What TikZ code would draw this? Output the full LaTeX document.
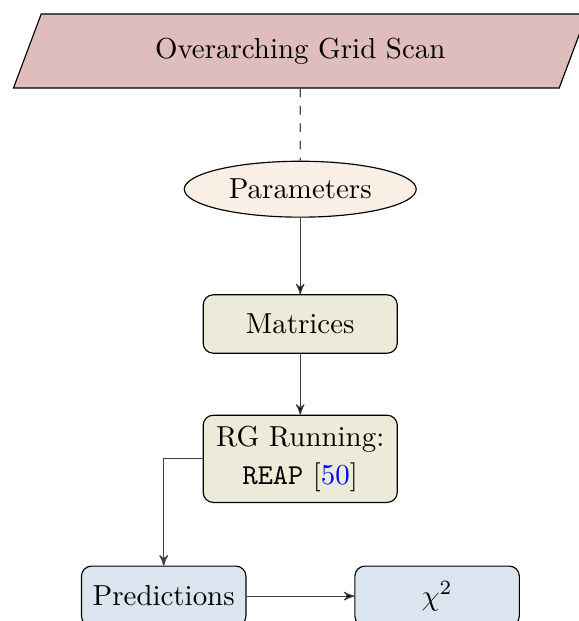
\documentclass[tikz,border=0pt]{standalone}
\usepackage{amsmath}
\usepackage{tikz}
\usetikzlibrary{arrows,shapes.geometric,positioning}

\definecolor{scanred}{HTML}{E0BDBD}
\definecolor{parorange}{HTML}{F9EFE5}
\definecolor{stepolive}{HTML}{ECEBD9}
\definecolor{outblue}{HTML}{DAE5EF}

\begin{document}
\begin{tikzpicture}[->,>=stealth',shorten >=0pt,thin]
\tikzstyle{scanbox}=[trapezium,trapezium left angle=70,trapezium right angle=110,trapezium stretches=true,draw=black,fill=scanred,minimum width=6.98cm,minimum height=0.9cm]
\tikzstyle{parbox}=[ellipse,draw=black,fill=parorange,minimum width=2.82cm,minimum height=0.68cm,inner sep=0pt]
\tikzstyle{stepbox}=[rectangle,rounded corners=3.5pt,draw=black,fill=stepolive,minimum width=2.36cm,minimum height=0.71cm,align=center]
\tikzstyle{outbox}=[rectangle,rounded corners=3.5pt,draw=black,fill=outblue,minimum width=2.0cm,minimum height=0.73cm]
\tikzstyle{link}=[draw=black!75]
\useasboundingbox (-3.65,0.62) rectangle (3.38,-6.93);
\node[scanbox] (S) at (0,0) {Overarching Grid Scan};
\node[parbox] (P) [below=0.876cm of S] {Parameters};
\node[stepbox] (M) [below=0.93cm of P] {Matrices};
\node[stepbox,minimum height=1.06cm,inner sep=2pt] (R) [below=0.74cm of M] {RG Running:\\[1pt] \texttt{REAP} [\textcolor{blue}{50}]};
\node[outbox] (O) [below=0.76cm of R,xshift=-1.66cm] {Predictions};
\node[outbox] (C) [right=1.31cm of O] {$\chi^2$};
\draw[-,dashed,draw=black!70] (S) -- (P);
\path[link] (P) edge (M)
	(M) edge (R)
	(O) edge (C);
\draw[link] (R.west) -| (O.north);

\end{tikzpicture}
\end{document}
